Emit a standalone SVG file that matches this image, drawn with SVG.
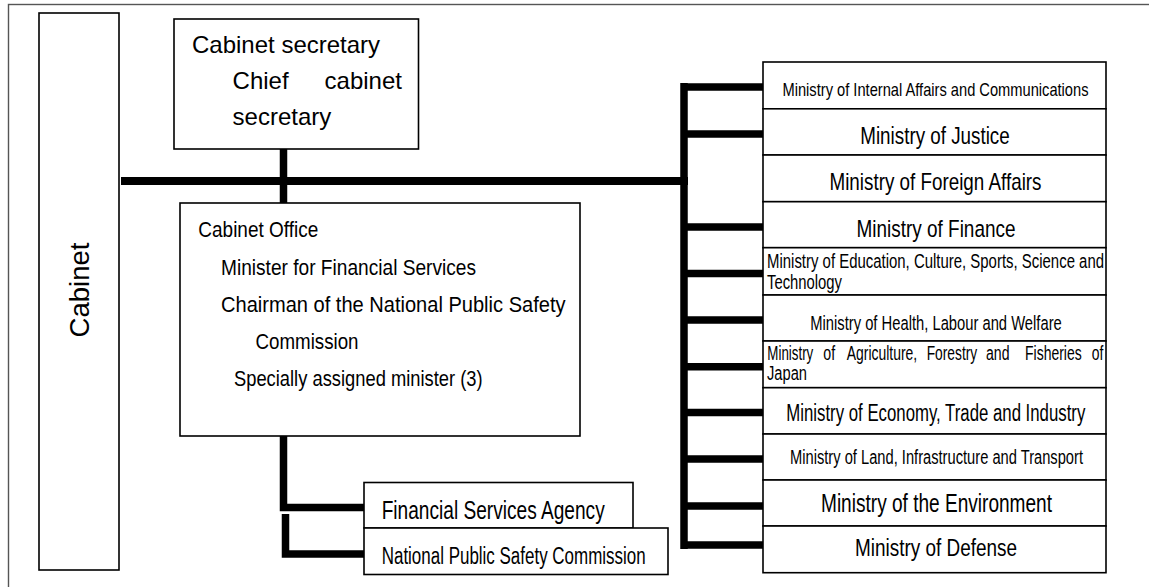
<svg xmlns="http://www.w3.org/2000/svg" width="1149" height="587" viewBox="0 0 1149 587">
<style>
.box{fill:#fff;stroke:#000;stroke-width:1.6}
.frame{fill:none;stroke:#555;stroke-width:1.4}
.bar{fill:none;stroke:#000;stroke-width:7.5;stroke-linejoin:miter;stroke-linecap:butt}
text{font-family:"Liberation Sans",Arial,sans-serif;fill:#000}
.m{text-anchor:middle}
</style>
<rect width="1149" height="587" fill="#fff"/>
<rect class="frame" x="8.5" y="4.5" width="1300" height="700"/>

<g id="connectors">
  <path class="bar" style="stroke-width:8" d="M121 181 H688"/>
  <path class="bar" d="M283.5 149 V203"/>
  <path class="bar" d="M684 83 V549"/>
  <path class="bar" d="M684 87 H763 M684 134 H763 M684 227 H763 M684 273.5 H763 M684 320 H763 M684 366.7 H763 M684 412.5 H763 M684 459 H763 M684 506 H763 M684 545 H763"/>
  <path class="bar" d="M283.5 436 V507.5 H364"/>
  <path class="bar" d="M285.5 514 V554 H364"/>
</g>

<g id="cabinet">
  <rect class="box" x="39" y="13" width="80" height="557"/>
  <text class="m" transform="translate(89,290) rotate(-90)" font-size="27.5">Cabinet</text>
</g>

<g id="cabinet-secretary">
  <rect class="box" x="174" y="19" width="244.5" height="130"/>
  <text x="192" y="53" font-size="24">Cabinet secretary</text>
  <text y="89" font-size="24"><tspan x="232.6">Chief</tspan><tspan x="324.6">cabinet</tspan></text>
  <text x="232.6" y="125" font-size="24">secretary</text>
</g>

<g id="cabinet-office">
  <rect class="box" x="180" y="203" width="400" height="233"/>
  <text x="198.3" y="236.7" font-size="22.5" textLength="120" lengthAdjust="spacingAndGlyphs">Cabinet Office</text>
  <text x="221" y="274.5" font-size="22.5" textLength="255" lengthAdjust="spacingAndGlyphs">Minister for Financial Services</text>
  <text x="221" y="311.5" font-size="22.5" textLength="344.5" lengthAdjust="spacingAndGlyphs">Chairman of the National Public Safety</text>
  <text x="255.5" y="349" font-size="22.5" textLength="103" lengthAdjust="spacingAndGlyphs">Commission</text>
  <text x="234" y="385.5" font-size="22.5" textLength="248.6" lengthAdjust="spacingAndGlyphs">Specially assigned minister (3)</text>
</g>

<g id="financial-services-agency">
  <rect class="box" x="364" y="482.5" width="269" height="45.5"/>
  <text x="381.7" y="519" font-size="25.5" textLength="223" lengthAdjust="spacingAndGlyphs">Financial Services Agency</text>
</g>

<g id="national-public-safety-commission">
  <rect class="box" x="364" y="528" width="304" height="46.5"/>
  <text x="381.7" y="563.5" font-size="23" textLength="264" lengthAdjust="spacingAndGlyphs">National Public Safety Commission</text>
</g>

<g id="ministry-internal-affairs">
  <rect class="box" x="763" y="62" width="343" height="46.8"/>
  <text class="m" x="935.5" y="95.5" font-size="19" textLength="306" lengthAdjust="spacingAndGlyphs">Ministry of Internal Affairs and Communications</text>
</g>
<g id="ministry-justice">
  <rect class="box" x="763" y="108.8" width="343" height="46.2"/>
  <text class="m" x="935" y="143.5" font-size="23.5" textLength="149.5" lengthAdjust="spacingAndGlyphs">Ministry of Justice</text>
</g>
<g id="ministry-foreign-affairs">
  <rect class="box" x="763" y="155" width="343" height="46.7"/>
  <text class="m" x="935.5" y="189.5" font-size="24" textLength="212" lengthAdjust="spacingAndGlyphs">Ministry of Foreign Affairs</text>
</g>
<g id="ministry-finance">
  <rect class="box" x="763" y="201.7" width="343" height="46"/>
  <text class="m" x="936" y="236.7" font-size="24.5" textLength="159" lengthAdjust="spacingAndGlyphs">Ministry of Finance</text>
</g>
<g id="ministry-education">
  <rect class="box" x="763" y="247.7" width="343" height="47.3"/>
  <text x="767" y="267.7" font-size="19.5" textLength="337" lengthAdjust="spacingAndGlyphs">Ministry of Education, Culture, Sports, Science and</text>
  <text x="767" y="289" font-size="19.5" textLength="75" lengthAdjust="spacingAndGlyphs">Technology</text>
</g>
<g id="ministry-health">
  <rect class="box" x="763" y="295" width="343" height="46"/>
  <text class="m" x="936" y="330" font-size="20.5" textLength="251.5" lengthAdjust="spacingAndGlyphs">Ministry of Health, Labour and Welfare</text>
</g>
<g id="ministry-agriculture">
  <rect class="box" x="763" y="341" width="343" height="46.7"/>
  <text y="360" font-size="19.5"><tspan x="767.3" textLength="46" lengthAdjust="spacingAndGlyphs">Ministry</tspan><tspan x="823.3" textLength="11.8" lengthAdjust="spacingAndGlyphs">of</tspan><tspan x="846.7" textLength="70.5" lengthAdjust="spacingAndGlyphs">Agriculture,</tspan><tspan x="926.7" textLength="50.5" lengthAdjust="spacingAndGlyphs">Forestry</tspan><tspan x="986" textLength="23.5" lengthAdjust="spacingAndGlyphs">and</tspan><tspan x="1025" textLength="56.7" lengthAdjust="spacingAndGlyphs">Fisheries</tspan><tspan x="1091.7" textLength="11.6" lengthAdjust="spacingAndGlyphs">of</tspan></text>
  <text x="767" y="380" font-size="19.5" textLength="40" lengthAdjust="spacingAndGlyphs">Japan</text>
</g>
<g id="ministry-economy">
  <rect class="box" x="763" y="387.7" width="343" height="46.3"/>
  <text class="m" x="935.8" y="420.5" font-size="23.5" textLength="299" lengthAdjust="spacingAndGlyphs">Ministry of Economy, Trade and Industry</text>
</g>
<g id="ministry-land">
  <rect class="box" x="763" y="434" width="343" height="46"/>
  <text class="m" x="936.5" y="464.3" font-size="20" textLength="293" lengthAdjust="spacingAndGlyphs">Ministry of Land, Infrastructure and Transport</text>
</g>
<g id="ministry-environment">
  <rect class="box" x="763" y="480" width="343" height="46"/>
  <text class="m" x="936.5" y="512" font-size="25" textLength="231" lengthAdjust="spacingAndGlyphs">Ministry of the Environment</text>
</g>
<g id="ministry-defense">
  <rect class="box" x="763" y="526" width="343" height="46.7"/>
  <text class="m" x="936" y="555.5" font-size="23.5" textLength="162" lengthAdjust="spacingAndGlyphs">Ministry of Defense</text>
</g>
</svg>
